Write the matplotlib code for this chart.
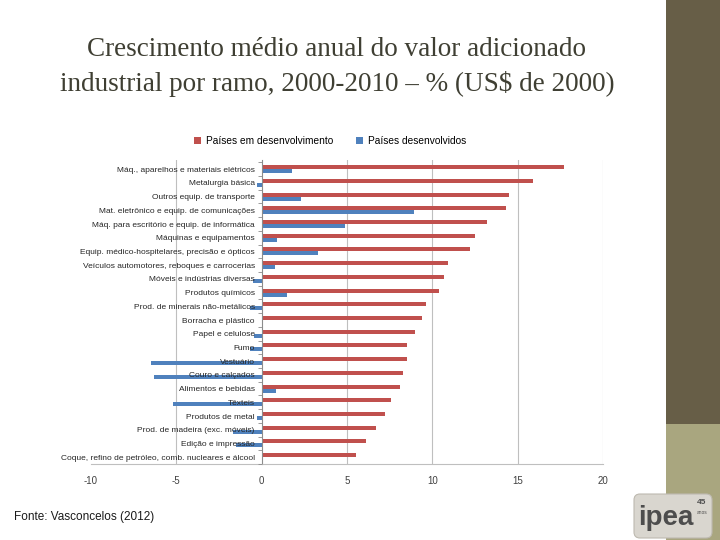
import matplotlib
matplotlib.use("Agg")
import matplotlib.pyplot as plt
import numpy as np
from matplotlib.patches import Rectangle, FancyBboxPatch

categories = [
    "Máq., aparelhos e materiais elétricos",
    "Metalurgia básica",
    "Outros equip. de transporte",
    "Mat. eletrônico e equip. de comunicações",
    "Máq. para escritório e equip. de informática",
    "Máquinas e equipamentos",
    "Equip. médico-hospitelares, precisão e ópticos",
    "Veículos automotores, reboques e carrocerias",
    "Móveis e indústrias diversas",
    "Produtos químicos",
    "Prod. de minerais não-metálicos",
    "Borracha e plástico",
    "Papel e celulose",
    "Fumo",
    "Vestuário",
    "Couro e calçados",
    "Alimentos e bebidas",
    "Têxteis",
    "Produtos de metal",
    "Prod. de madeira (exc. móveis)",
    "Edição e impressão",
    "Coque, refino de petróleo, comb. nucleares e álcool",
]
developing = [17.7, 15.9, 14.5, 14.3, 13.2, 12.5, 12.2, 10.9, 10.7, 10.4, 9.6,
              9.4, 9.0, 8.5, 8.5, 8.3, 8.1, 7.6, 7.2, 6.7, 6.1, 5.5]
developed = [1.8, -0.3, 2.3, 8.9, 4.9, 0.9, 3.3, 0.8, -0.5, 1.5, -0.7,
             0.05, -0.45, -0.7, -6.5, -6.3, 0.85, -5.2, -0.25, -1.7, -1.5, 0.05]
x_ticks = [-10, -5, 0, 5, 10, 15, 20]

RED = "#c0504d"
BLUE = "#4f81bd"
SANS = "Liberation Sans"

fig = plt.figure(figsize=(7.2, 5.4), dpi=100)
fig.patch.set_facecolor("white")

# slide decoration: right band and logo
deco = fig.add_axes([0, 0, 1, 1], zorder=-5)
deco.set_xlim(0, 720)
deco.set_ylim(540, 0)
deco.axis("off")
deco.add_patch(Rectangle((666, 0), 54, 424, color="#675e47", lw=0))
deco.add_patch(Rectangle((666, 424), 54, 116, color="#a9a67f", lw=0))
deco.add_patch(FancyBboxPatch((634, 494), 78, 44, boxstyle="round,pad=0,rounding_size=6",
                              fc="#d9d6cf", ec="#bdb9b0", lw=0.8))
deco.text(666, 518, "ipea", fontsize=20, fontweight="bold", color="#4d4d4d",
          family=SANS, ha="center", va="center")
deco.text(702, 503, "45", fontsize=6, fontweight="bold", color="#4d4d4d",
          family=SANS, ha="center", va="center")
deco.text(702, 513, "anos", fontsize=3.5, color="#4d4d4d", family=SANS,
          ha="center", va="center")

fig.text(0.468, 1 - 67 / 540,
         "Crescimento médio anual do valor adicionado\n"
         "industrial por ramo, 2000-2010 – % (US$ de 2000)",
         ha="center", va="center", fontsize=19.5, family="Liberation Serif",
         color="#3f3f33", linespacing=1.45)

fig.text(14 / 720, 1 - 517 / 540, "Fonte: Vasconcelos (2012)", fontsize=8.5,
         family=SANS, color="#1a1a1a", ha="left", va="center")

ax = fig.add_axes([91 / 720, 1 - 464 / 540, 512 / 720, 304 / 540])
y = np.arange(len(categories))
h = 0.29
ax.barh(y - h / 2, developing, height=h, color=RED, label="Países em desenvolvimento", zorder=2)
ax.barh(y + h / 2, developed, height=h, color=BLUE, label="Países desenvolvidos", zorder=2)
ax.set_axisbelow(False)

ax.set_xlim(-10, 20)
ax.set_ylim(21.34, -0.67)
ax.set_xticks(x_ticks)
ax.set_xticklabels([str(t) for t in x_ticks], fontsize=7, family=SANS, color="#404040")
for t in x_ticks[1:]:
    if t != 0:
        ax.axvline(t, color="#bfbfbf", lw=0.8, zorder=1)

ax.spines["left"].set_position(("data", 0))
ax.spines["left"].set_color("#8c8c8c")
ax.spines["bottom"].set_color("#bfbfbf")
ax.spines["top"].set_visible(False)
ax.spines["right"].set_visible(False)

ax.set_yticks(y)
ax.set_yticklabels(categories, fontsize=6, family=SANS, color="#262626")
ax.tick_params(axis="y", length=0, pad=5)
ax.set_yticks(np.arange(-0.5, len(categories), 1.0), minor=True)
ax.tick_params(axis="y", which="minor", length=3, color="#8c8c8c")
ax.tick_params(axis="x", length=0, pad=9)
ax.set_facecolor("none")

handles, labels = ax.get_legend_handles_labels()
fig.legend(handles, labels, loc="center", bbox_to_anchor=(330 / 720, 1 - 141 / 540),
           ncol=2, frameon=False, prop={"family": SANS, "size": 7.3},
           handlelength=0.7, handleheight=0.7, columnspacing=2.2, handletextpad=0.5)

fig.savefig("out.png", dpi=100)
